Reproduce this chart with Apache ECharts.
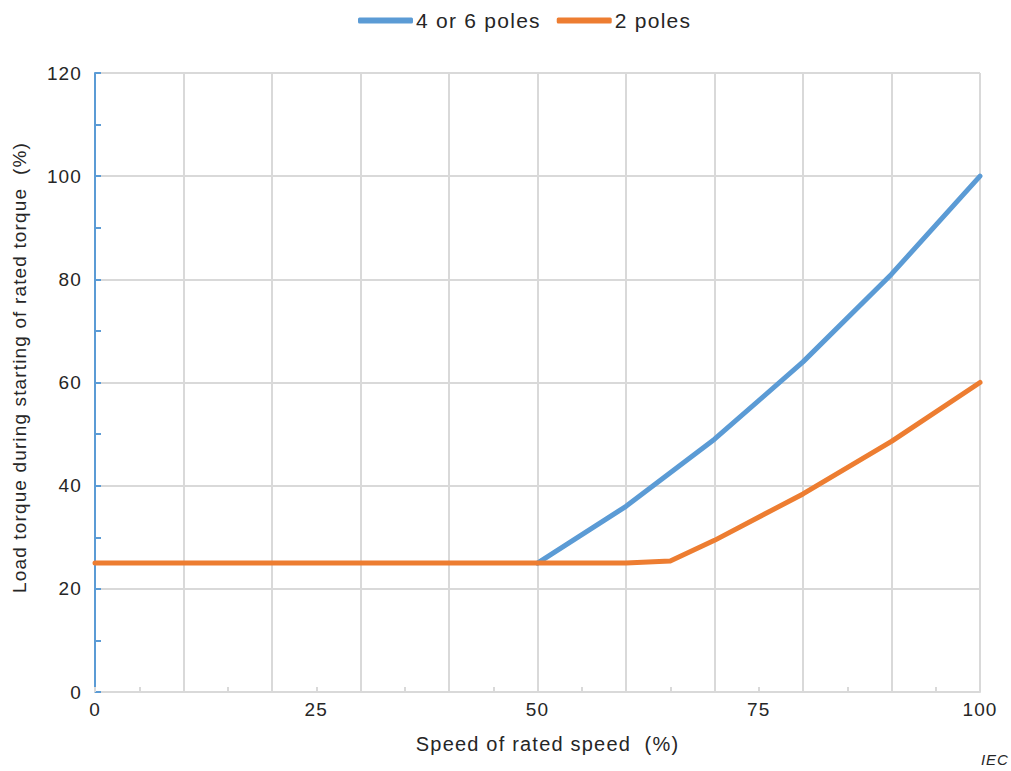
<!DOCTYPE html>
<html>
<head>
<meta charset="utf-8">
<script src="https://cdn.jsdelivr.net/npm/echarts@6/dist/echarts.min.js"></script>
<style>
html,body{margin:0;padding:0;background:#fff}
#c{width:1011px;height:771px}
#c svg text{letter-spacing:0.06em}
</style>
</head>
<body>
<div id="c"></div>
<script>
const seriesNames = ['4 or 6 poles', '2 poles'];
const poles46X = [50, 60, 70, 80, 90, 100];
const poles46Y = [25, 36, 49, 64, 81, 100];
const poles2X = [0, 60, 65, 70, 80, 90, 100];
const poles2Y = [25, 25, 25.4, 29.4, 38.4, 48.6, 60];
const xTickLabels = [0, 25, 50, 75, 100];
const yTickLabels = [0, 20, 40, 60, 80, 100, 120];

const zip = (xs, ys) => xs.map((x, i) => [x, ys[i]]);
const FONT = 'Liberation Sans';
const TXT = '#262626';
const grey = '#d9d9d9';
const blue = '#5B9BD5';
const orange = '#ED7D31';

const chart = echarts.init(document.getElementById('c'), null, { renderer: 'svg' });
chart.setOption({
  animation: false,
  textStyle: { fontFamily: FONT },
  grid: { left: 95, right: 31, top: 73, bottom: 79 },
  legend: {
    top: 5, left: 353, padding: 5,
    icon: 'roundRect', itemWidth: 55, itemHeight: 6, itemGap: 31,
    textStyle: { fontFamily: FONT, fontSize: 21, color: TXT, padding: [0, 0, 0, -2] },
    data: seriesNames
  },
  xAxis: [
    {
      type: 'value', min: 0, max: 100, interval: 10, position: 'bottom',
      axisLine: { show: true, lineStyle: { color: grey, width: 2 } },
      axisTick: { show: true, inside: true, length: 5, lineStyle: { color: grey, width: 2 } },
      minorTick: { show: true, splitNumber: 2, length: 5, lineStyle: { color: grey, width: 2 } },
      axisLabel: { show: false },
      splitLine: { show: true, lineStyle: { color: grey, width: 2 } }
    },
    {
      type: 'value', min: 0, max: 100, interval: 25, position: 'bottom',
      axisLine: { show: false }, axisTick: { show: false }, splitLine: { show: false },
      axisLabel: {
        show: true, margin: 8, fontFamily: FONT, fontSize: 19, color: TXT,
        formatter: v => xTickLabels.includes(v) ? String(v) : ''
      },
      name: 'Speed of rated speed  (%)', nameLocation: 'middle', nameGap: 42,
      nameTextStyle: { fontFamily: FONT, fontSize: 20, color: TXT, padding: [0, 0, 0, 20] }
    }
  ],
  yAxis: {
    type: 'value', min: 0, max: 120, interval: 20,
    axisLine: { show: true, lineStyle: { color: blue, width: 2 } },
    axisTick: { show: true, inside: true, length: 6, lineStyle: { color: blue, width: 2 } },
    minorTick: { show: true, splitNumber: 2, length: 6, lineStyle: { color: blue, width: 2 } },
    splitLine: { show: true, lineStyle: { color: grey, width: 2 } },
    axisLabel: {
      margin: 13, fontFamily: FONT, fontSize: 19, color: TXT,
      formatter: v => yTickLabels.includes(v) ? String(v) : ''
    },
    name: 'Load torque during starting of rated torque  (%)', nameLocation: 'middle', nameGap: 66,
    nameTextStyle: { fontFamily: FONT, fontSize: 19, color: TXT, padding: [0, 0, 0, 30] }
  },
  graphic: [{
    type: 'text', right: 5, top: 752,
    style: { text: 'IEC', font: 'italic 15px "Liberation Sans"', fill: TXT }
  }],
  series: [
    {
      name: seriesNames[0], type: 'line', xAxisIndex: 0, symbol: 'none',
      data: zip(poles46X, poles46Y),
      lineStyle: { color: blue, width: 5, cap: 'round', join: 'round' }, itemStyle: { color: blue }
    },
    {
      name: seriesNames[1], type: 'line', xAxisIndex: 0, symbol: 'none',
      data: zip(poles2X, poles2Y),
      lineStyle: { color: orange, width: 5, cap: 'round', join: 'round' }, itemStyle: { color: orange }
    }
  ]
});
</script>
</body>
</html>
